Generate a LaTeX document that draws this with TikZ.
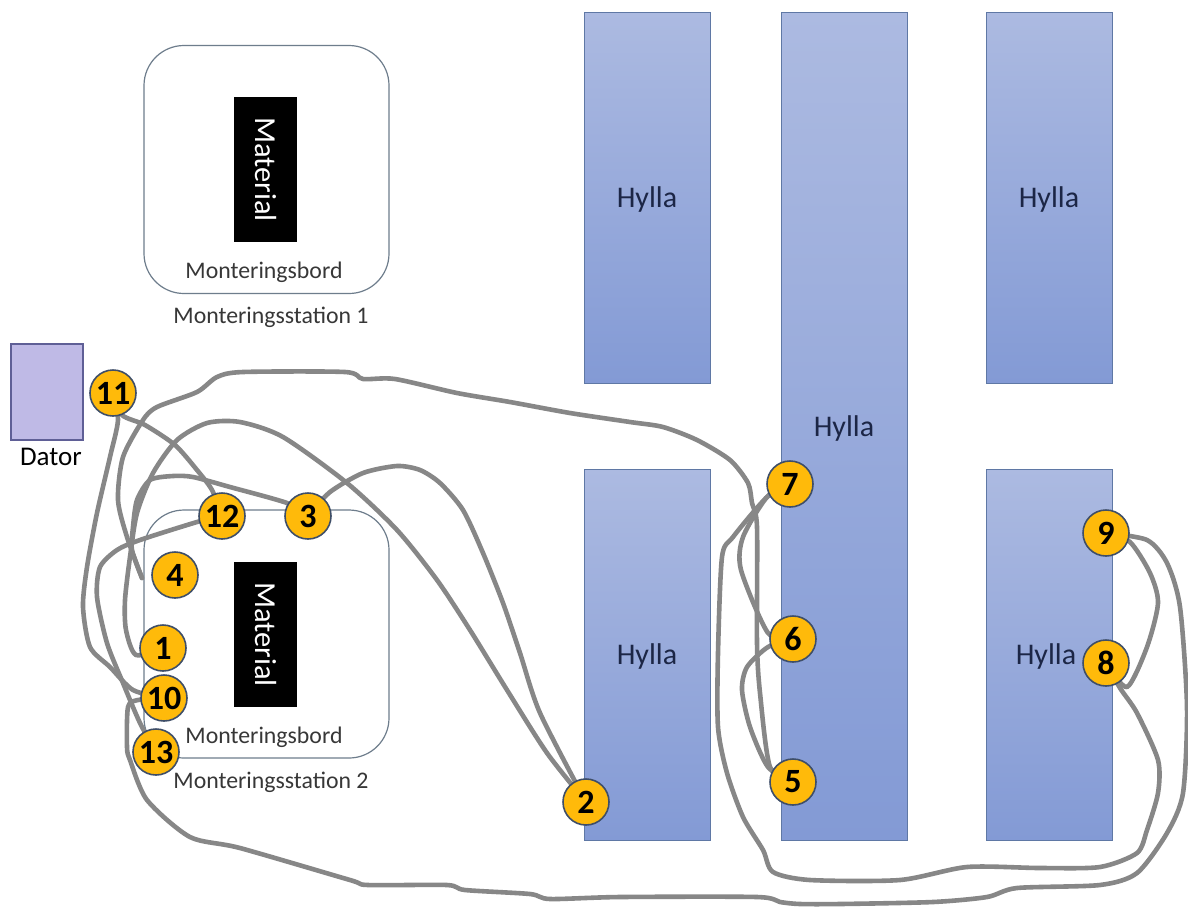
\documentclass[tikz,border=0pt]{standalone}
\usepackage{fontspec}
\setmainfont{Carlito}
\pgfdeclarelayer{bg}
\pgfdeclarelayer{mid}
\pgfsetlayers{bg,mid,main}
\definecolor{hyltop}{RGB}{172,186,225}
\definecolor{hylbot}{RGB}{131,154,213}
\definecolor{hyledge}{RGB}{95,120,165}
\definecolor{hyltext}{RGB}{28,38,70}
\definecolor{datorfill}{RGB}{191,186,230}
\definecolor{datoredge}{RGB}{95,95,150}
\definecolor{bordedge}{RGB}{110,125,140}
\definecolor{route}{RGB}{135,135,135}
\definecolor{badge}{RGB}{255,186,10}
\definecolor{badgeedge}{RGB}{62,78,104}
\definecolor{labeltext}{RGB}{55,55,55}
\tikzset{
  x=1pt,y=-1pt,
  hylla/.style={draw=hyledge,line width=1pt,shade,top color=hyltop,bottom color=hylbot,
    minimum width=126pt,inner sep=0pt,text=hyltext,font=\fontsize{30}{30}\selectfont},
  bord/.style={draw=bordedge,line width=1.2pt,rounded corners=40pt,minimum width=245pt,minimum height=248pt,inner sep=0pt,fill=white},
  matbox/.style={fill=black,text=white,rotate=-90,minimum width=145pt,minimum height=63pt,inner sep=0pt,font=\fontsize{30.5}{30.5}\selectfont},
  lab/.style={text=labeltext,inner sep=0pt,font=\fontsize{23.8}{23.8}\selectfont},
  num/.style={circle,draw=badgeedge,line width=1.6pt,fill=badge,minimum size=46pt,inner sep=0pt,font=\bfseries\fontsize{34}{34}\selectfont,text=black},
  pathline/.style={draw=route,line width=4.6pt,line join=round,line cap=round},
}
\newcommand{\rt}[1]{\draw[pathline] plot[smooth,tension=0.45] coordinates {#1};}
\newcommand{\hyl}{\raisebox{-10pt}[0pt][0pt]{Hylla}}
\begin{document}
\begin{tikzpicture}
\useasboundingbox (0,0) rectangle (1188,906);
\begin{pgfonlayer}{bg}
\fill[white] (0,0) rectangle (1188,906);
\node[hylla,minimum height=371pt] (h1) at (647,197.5) {\hyl};
\node[hylla,minimum height=371pt] (h2) at (647,654.5) {\hyl};
\node[hylla,minimum height=828pt] (h3) at (844,426) {\hyl};
\node[hylla,minimum height=371pt] (h4) at (1049,197.5) {\hyl};
\node[hylla,minimum height=371pt] (h5) at (1049,654.5) {\hspace*{-6pt}\hyl};
\node[draw=datoredge,line width=1.2pt,fill=datorfill,minimum width=72pt,minimum height=96pt,inner sep=0pt] (dator) at (47,392) {};
\node[inner sep=0pt,text=black,font=\fontsize{27}{27}\selectfont] (datort) at (51,457) {Dator};
\node[bord] (b1) at (266.5,169.5) {};
\node[bord] (b2) at (266.5,634) {};
\node[matbox] (m1) at (265.5,169.5) {Material};
\node[matbox] (m2) at (265.5,634.5) {Material};
\node[lab] (bl1) at (264,272) {Monteringsbord};
\node[lab] (bl2) at (264,737) {Monteringsbord};
\node[lab] (sl1) at (271,317) {Monteringsstation 1};
\node[lab] (sl2) at (271,782) {Monteringsstation 2};
\end{pgfonlayer}
\node[num] (n1) at (163,648) {1};
\node[num] (n2) at (586,802) {2};
\node[num] (n3) at (308,516) {3};
\node[num] (n4) at (175,575) {4};
\node[num] (n5) at (793,782) {5};
\node[num] (n6) at (793,639) {6};
\node[num] (n7) at (790,484) {7};
\node[num] (n8) at (1106,663) {8};
\node[num] (n9) at (1106,533) {9};
\node[num] (n10) at (164,698) {10};
\node[num] (n11) at (113,393) {11};
\node[num] (n12) at (222,516) {12};
\node[num] (n13) at (156,752) {13};
\coordinate (c4) at (142,578);
\begin{pgfonlayer}{mid}
% 1 -> 2
\rt{(n1) (136,655) (126,630) (125,600) (130,557) (137,513) (153,473) (177,440) (207,423) (240,422) (283,437) (347,483) (397,530) (437,580) (470,630) (507,690) (547,753) (n2)}
% 2 -> 3
\rt{(n2) (540,713) (520,653) (503,603) (483,553) (463,510) (440,483) (420,470) (397,466) (363,473) (330,492) (n3)}
% 3 -> 4
\rt{(n3) (287,503) (230,487) (193,477) (173,476) (150,480) (137,500) (133,527) (132,550) (c4)}
% 4 -> 5
\rt{(c4) (127,537) (118,500) (123,457) (143,420) (157,407) (197,392) (217,377) (243,372) (345,372) (363,379) (395,379) (457,393) (510,402) (570,413) (630,422) (663,427) (697,440) (730,460) (748,483) (752,503) (757,527) (757,643) (760,693) (770,767) (n5)}
% 5 -> 6
\rt{(n5) (768,767) (750,727) (742,690) (747,667) (768,647) (n6)}
% 6 -> 7
\rt{(n6) (768,633) (741,570) (743,537) (767,497) (n7)}
% 7 -> 8
\rt{(n7) (767,497) (733,537) (722,557) (718,653) (718,727) (727,773) (743,817) (763,850) (773,872) (810,880) (900,880) (967,867) (1040,868) (1100,867) (1137,853) (1147,830) (1158,793) (1158,760) (1137,713) (1120,688) (n8)}
% 8 -> 9
\rt{(n8) (1127,687) (1147,647) (1158,603) (1150,573) (1130,542) (n9)}
% 9 -> 10
\rt{(n9) (1147,540) (1167,563) (1180,607) (1187,707) (1183,793) (1167,833) (1137,873) (1100,885) (1017,888) (987,897) (933,902) (840,904) (800,904) (780,902) (757,897) (620,897) (550,899) (530,894) (465,890) (447,885) (368,885) (350,880) (240,848) (190,837) (147,800) (130,760) (127,747) (128,707) (138,700) (n10)}
% 10 -> 11
\rt{(n10) (133,690) (110,667) (90,647) (83,607) (87,567) (97,513) (110,457) (118,420) (n11)}
% 11 -> 12
\rt{(n11) (122,415) (145,425) (175,445) (197,470) (212,490) (n12)}
% 12 -> 13
\rt{(n12) (197,522) (140,540) (117,550) (100,567) (97,597) (107,643) (123,683) (140,723) (n13)}
\end{pgfonlayer}
\end{tikzpicture}
\end{document}
